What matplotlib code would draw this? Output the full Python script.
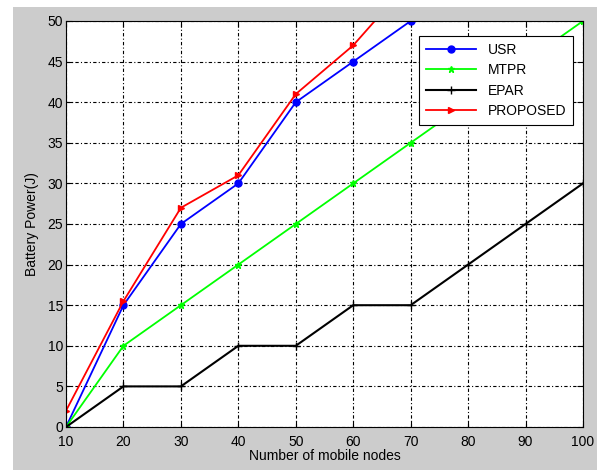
import matplotlib.pyplot as plt
from matplotlib.patches import Rectangle

plt.rcParams['font.family'] = ['Liberation Sans', 'DejaVu Sans']

nodes = [10, 20, 30, 40, 50, 60, 70, 80, 90, 100]
usr = [0, 15, 25, 30, 40, 45, 50]
mtpr = [0, 10, 15, 20, 25, 30, 35, 40, 45, 50]
epar = [0, 5, 5, 10, 10, 15, 15, 20, 25, 30]
proposed = [2, 15.5, 27, 31, 41, 47, 55]

fig = plt.figure(figsize=(5.97, 4.70), dpi=100, facecolor='white')
# grey figure panel (MATLAB style)
fig.patches.append(Rectangle((13 / 597, 0), 1, 463 / 470, transform=fig.transFigure,
                             facecolor='#cccccc', edgecolor='none', zorder=-10))

ax = fig.add_axes([66 / 597, 43 / 470, 517 / 597, 406 / 470])
ax.set_facecolor('white')

ax.plot(nodes[:len(usr)], usr, color='#0000ff', marker='o', markersize=5, lw=1.3, label='USR')
ax.plot(nodes, mtpr, color='#00ff00', marker='*', markersize=5, lw=1.3, label='MTPR')
ax.plot(nodes, epar, color='black', marker='+', markersize=6, lw=1.5, label='EPAR')
ax.plot(nodes[:len(proposed)], proposed, color='#ff0000', marker='>', markersize=5, lw=1.3,
        label='PROPOSED')

ax.set_xlim(10, 100)
ax.set_ylim(0, 50)
ax.set_xticks(nodes)
ax.set_yticks(range(0, 55, 5))
ax.tick_params(direction='in', top=True, right=True, labelsize=10, length=4, pad=2)
ax.tick_params(axis='x', pad=6)
ax.grid(True, color='black', linestyle=(0, (3, 2, 1, 2)), linewidth=0.8)
for s in ax.spines.values():
    s.set_linewidth(0.8)

ax.set_xlabel('Number of mobile nodes', fontsize=10, labelpad=0)
ax.set_ylabel('Battery Power(J)', fontsize=10, labelpad=6)

leg = ax.legend(loc='upper right', bbox_to_anchor=(0.994, 0.98), fontsize=10,
                fancybox=False, framealpha=1, edgecolor='black', borderpad=0.5,
                handlelength=3.6, labelspacing=0.45)
leg.get_frame().set_linewidth(0.8)

plt.savefig('out.png', dpi=100)
